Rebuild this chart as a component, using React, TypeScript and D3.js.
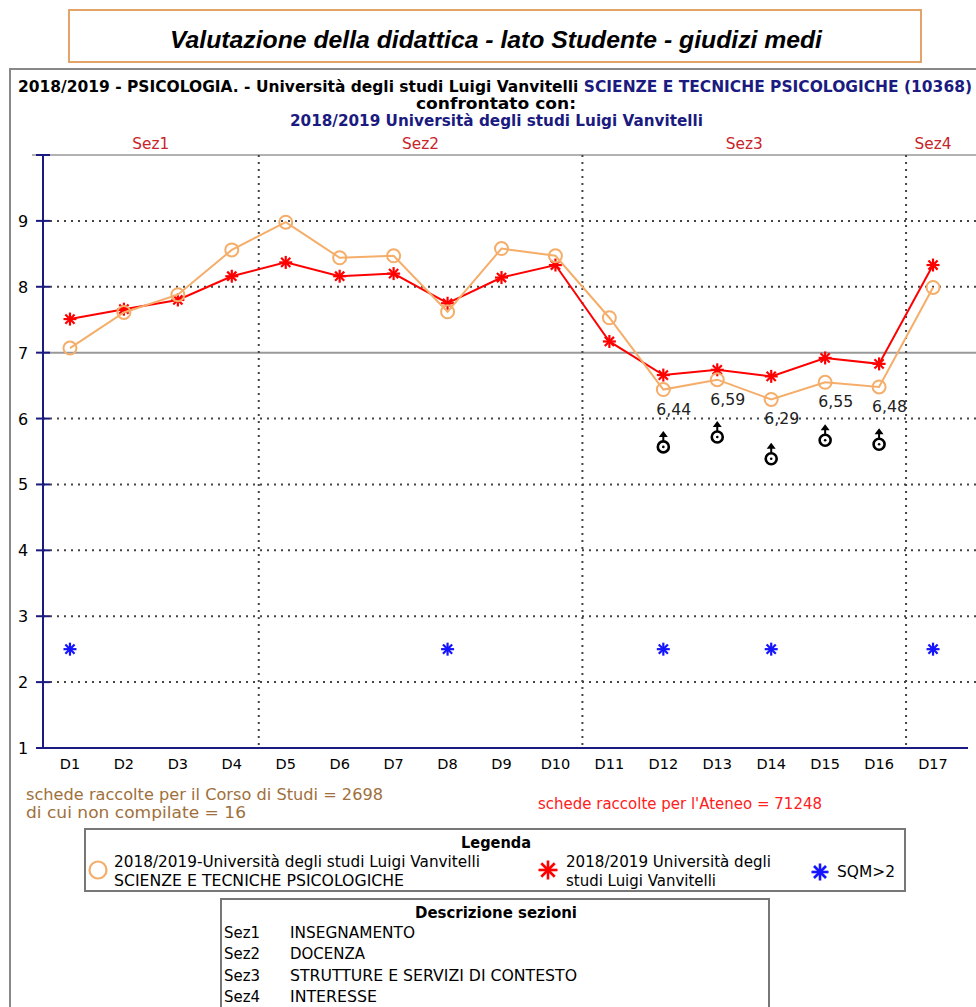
import * as d3 from 'd3';

const categories = ['D1', 'D2', 'D3', 'D4', 'D5', 'D6', 'D7', 'D8', 'D9', 'D10', 'D11', 'D12', 'D13', 'D14', 'D15', 'D16', 'D17'];
const courseValues = [7.07, 7.61, 7.88, 8.56, 8.98, 8.44, 8.47, 7.62, 8.58, 8.47, 7.53, 6.44, 6.59, 6.29, 6.55, 6.48, 7.99];
const ateneoValues = [7.51, 7.66, 7.8, 8.16, 8.37, 8.16, 8.2, 7.75, 8.14, 8.33, 7.17, 6.66, 6.74, 6.64, 6.92, 6.83, 8.33];
const sqmCategories = ['D1', 'D8', 'D12', 'D14', 'D17'];
const sqmLevel = 2.5;
const flaggedCategories = ['D12', 'D13', 'D14', 'D15', 'D16'];
const flagMarkerValues = [5.57, 5.72, 5.39, 5.67, 5.61];
const sectionNames = ['Sez1', 'Sez2', 'Sez3', 'Sez4'];
const sectionLastCategory = ['D4', 'D10', 'D16', 'D17'];
const sectionDescriptions = ['INSEGNAMENTO', 'DOCENZA', 'STRUTTURE E SERVIZI DI CONTESTO', 'INTERESSE'];
const descriptionWidths = [125, 75, 287, 87];
const yTicks = [1, 2, 3, 4, 5, 6, 7, 8, 9];

const FONT = '"DejaVu Sans", Verdana, sans-serif';
const NAVY = '#1a1a80';
const ORANGE = '#f5ad6a';
const RED = '#ff0000';
const BLUE = '#1414ff';

function Asterisk({ x, y, r, color, w }: { x: number; y: number; r: number; color: string; w: number }) {
  const angles = [0, 45, 90, 135];
  return (
    <g>
      {angles.map(a => {
        const rad = (a * Math.PI) / 180;
        const dx = Math.cos(rad) * r;
        const dy = Math.sin(rad) * r;
        return <line key={a} x1={x - dx} y1={y - dy} x2={x + dx} y2={y + dy} stroke={color} strokeWidth={w} />;
      })}
    </g>
  );
}

function FlagMarker({ x, y }: { x: number; y: number }) {
  return (
    <g>
      <line x1={x} y1={y - 5} x2={x} y2={y - 11} stroke="#000" strokeWidth={2} />
      <path d={`M${x - 4.5},${y - 10} L${x + 4.5},${y - 10} L${x},${y - 16} Z`} fill="#000" />
      <circle cx={x} cy={y} r={5.5} fill="none" stroke="#000" strokeWidth={2.6} />
      <circle cx={x} cy={y} r={1.3} fill="#000" />
    </g>
  );
}

export default function App() {
  const x = d3.scalePoint<string>().domain(categories).range([43, 960]).padding(0.5);
  const step = x.step();
  const y = d3.scaleLinear().domain([1, 10]).range([748, 155]);

  const seriesLine = d3.line<number>()
    .x((_, i) => x(categories[i])!)
    .y(d => y(d));

  const sectionBounds = sectionLastCategory.map(c => x(c)! + step / 2);
  const sectionStarts = [43, ...sectionBounds.slice(0, -1)];
  const fit = { lengthAdjust: 'spacingAndGlyphs' as const };

  return (
    <svg width={976} height={1007} style={{ position: 'absolute', left: 0, top: 0, background: '#fff' }} fontFamily={FONT}>
      {/* title box */}
      <rect x={69} y={10} width={852} height={52} fill="#fff" stroke="#e2a468" strokeWidth={2} />
      <text x={170} y={48} fontSize={24} fontStyle="italic" fontFamily='"Liberation Sans", Arial, sans-serif' fill="#000" fontWeight={600} textLength={652} {...fit}>
        Valutazione della didattica - lato Studente - giudizi medi
      </text>

      {/* main panel */}
      <rect x={10} y={69} width={972} height={950} fill="#fff" stroke="#888" strokeWidth={2} />
      <text x={18} y={92} fontSize={15} fontWeight="bold" textLength={954} {...fit}>
        <tspan fill="#000">2018/2019 - PSICOLOGIA. - Università degli studi Luigi Vanvitelli </tspan>
        <tspan fill={NAVY}>SCIENZE E TECNICHE PSICOLOGICHE (10368)</tspan>
      </text>
      <text x={416} y={109} fontSize={15} fontWeight="bold" fill="#000" textLength={160} {...fit}>confrontato con:</text>
      <text x={290} y={126} fontSize={15} fontWeight="bold" fill={NAVY} textLength={413} {...fit}>2018/2019 Università degli studi Luigi Vanvitelli</text>

      {/* section labels */}
      {sectionNames.map((s, i) => (
        <text key={s} x={(sectionStarts[i] + sectionBounds[i]) / 2} y={149} textAnchor="middle" fontSize={15} fill="#c8242a" textLength={37} {...fit}>{s}</text>
      ))}

      {/* top border of plot */}
      <line x1={32} x2={976} y1={y(10)} y2={y(10)} stroke="#999" strokeWidth={1.5} />

      {/* horizontal grid */}
      {yTicks.filter(t => t !== 1).map(t => (
        t === 7
          ? <line key={t} x1={43} x2={976} y1={y(t)} y2={y(t)} stroke="#999" strokeWidth={2} />
          : <line key={t} x1={43} x2={976} y1={y(t)} y2={y(t)} stroke="#444" strokeWidth={2} strokeDasharray="2,5" />
      ))}

      {/* section separators */}
      {sectionBounds.slice(0, -1).map((b, i) => (
        <line key={i} x1={b} x2={b} y1={y(10)} y2={y(1)} stroke="#444" strokeWidth={2} strokeDasharray="2,5" />
      ))}

      {/* axes */}
      <line x1={43} x2={43} y1={y(10)} y2={y(1)} stroke={NAVY} strokeWidth={2} />
      <line x1={43} x2={968} y1={y(1)} y2={y(1)} stroke={NAVY} strokeWidth={2} />
      {[...yTicks, 10].map(t => (
        <line key={t} x1={36} x2={50} y1={y(t)} y2={y(t)} stroke={NAVY} strokeWidth={2} />
      ))}
      {yTicks.map(t => (
        <text key={t} x={23} y={y(t) + 6} textAnchor="middle" fontSize={16} fill="#000">{t}</text>
      ))}
      {categories.map(c => (
        <text key={c} x={x(c)} y={769} textAnchor="middle" fontSize={14.5} fill="#000">{c}</text>
      ))}

      {/* SQM>2 */}
      {sqmCategories.map(c => (
        <Asterisk key={c} x={x(c)!} y={y(sqmLevel)} r={6.5} color={BLUE} w={2.2} />
      ))}

      {/* ateneo series */}
      <path d={seriesLine(ateneoValues) ?? ''} fill="none" stroke={RED} strokeWidth={2} />
      {ateneoValues.map((v, i) => (
        <Asterisk key={i} x={x(categories[i])!} y={y(v)} r={6.5} color={RED} w={2.2} />
      ))}

      {/* course series */}
      <path d={seriesLine(courseValues) ?? ''} fill="none" stroke={ORANGE} strokeWidth={2} />
      {courseValues.map((v, i) => (
        <circle key={i} cx={x(categories[i])} cy={y(v)} r={6.5} fill="none" stroke={ORANGE} strokeWidth={2} />
      ))}

      {/* flagged values */}
      {flaggedCategories.map((c, i) => {
        const v = courseValues[categories.indexOf(c)];
        return (
          <g key={c}>
            <text x={x(c)! - 7} y={y(v) + 25} fontSize={15} fill="#222" textLength={35} {...fit}>{v.toFixed(2).replace('.', ',')}</text>
            <FlagMarker x={x(c)!} y={y(flagMarkerValues[i])} />
          </g>
        );
      })}

      {/* counts */}
      <text x={26} y={800} fontSize={15} fill="#a0703c" textLength={357} {...fit}>schede raccolte per il Corso di Studi = 2698</text>
      <text x={26} y={818} fontSize={15} fill="#a0703c" textLength={220} {...fit}>di cui non compilate = 16</text>
      <text x={538} y={809} fontSize={15} fill="#ff2020" textLength={284} {...fit}>schede raccolte per l'Ateneo = 71248</text>

      {/* legend */}
      <rect x={85} y={829} width={820} height={62} fill="#fff" stroke="#777" strokeWidth={2} />
      <text x={461} y={848} fontSize={15} fontWeight="bold" textLength={70} {...fit}>Legenda</text>
      <circle cx={98} cy={870} r={8.5} fill="none" stroke={ORANGE} strokeWidth={2.2} />
      <text x={114} y={867} fontSize={15} textLength={366} {...fit}>2018/2019-Università degli studi Luigi Vanvitelli</text>
      <text x={114} y={886} fontSize={15} textLength={290} {...fit}>SCIENZE E TECNICHE PSICOLOGICHE</text>
      <Asterisk x={548} y={870} r={9.5} color={RED} w={2.6} />
      <text x={566} y={867} fontSize={15} textLength={205} {...fit}>2018/2019 Università degli</text>
      <text x={566} y={886} fontSize={15} textLength={150} {...fit}>studi Luigi Vanvitelli</text>
      <Asterisk x={820} y={872} r={8.5} color={BLUE} w={2.6} />
      <text x={837} y={877} fontSize={15} textLength={58} {...fit}>SQM&gt;2</text>

      {/* section descriptions */}
      <rect x={221} y={899} width={548} height={120} fill="#fff" stroke="#777" strokeWidth={2} />
      <text x={415} y={918} fontSize={15} fontWeight="bold" textLength={162} {...fit}>Descrizione sezioni</text>
      {sectionNames.map((s, i) => (
        <g key={s}>
          <text x={224} y={938 + i * 21.3} fontSize={15} textLength={36} {...fit}>{s}</text>
          <text x={290} y={938 + i * 21.3} fontSize={15} textLength={descriptionWidths[i]} {...fit}>{sectionDescriptions[i]}</text>
        </g>
      ))}
    </svg>
  );
}
